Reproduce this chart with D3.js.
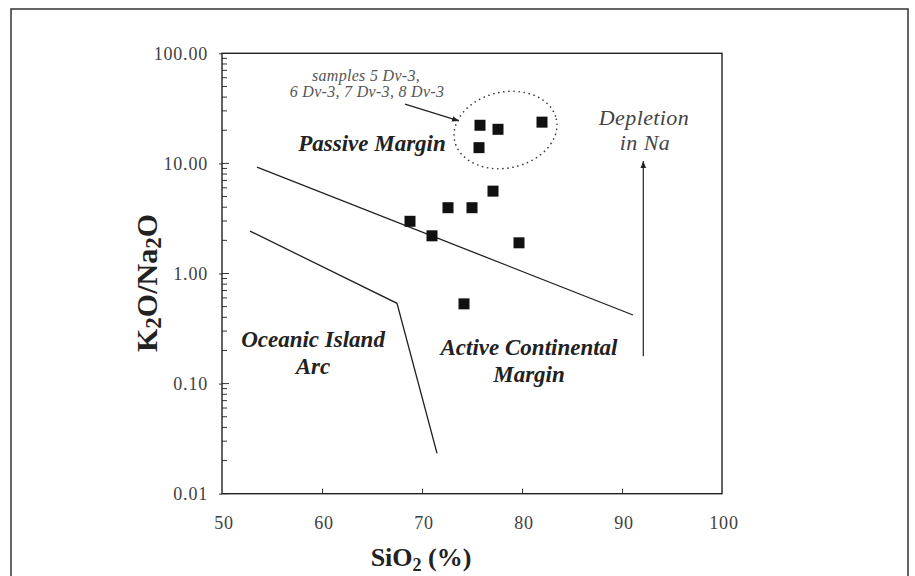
<!DOCTYPE html>
<html>
<head>
<meta charset="utf-8">
<script src="https://cdn.jsdelivr.net/npm/d3@7"></script>
<style>
  html, body { margin: 0; padding: 0; background: #fff; }
  svg { display: block; font-family: "Liberation Serif", "Times New Roman", serif; }
</style>
</head>
<body>
<svg id="chart" width="915" height="576"></svg>
<script>
// values
var xTicks = [50, 60, 70, 80, 90, 100];
var yTicks = [0.01, 0.1, 1, 10, 100];
var sio2     = [68.8, 71.0, 72.6, 75.0, 77.1, 75.8, 77.6, 75.7, 82.0, 79.7, 74.2];
var k2oNa2o  = [2.98, 2.2, 3.96, 3.96, 5.6, 22.2, 20.4, 13.9, 23.7, 1.9, 0.53];
var upperBoundary = [[53.5, 9.25], [91.1, 0.42]];
var lowerBoundary = [[52.8, 2.43], [67.5, 0.536], [71.5, 0.0233]];
var depletionArrow = [[92.13, 0.177], [92.13, 10.5]];
var sampleArrow = [[68.3, 34.5], [73.7, 24.3]];
var sampleGroup = {x: 78.35, y: 20.1};
var regionLabels = [
  {lines: ['Passive Margin'], x: 65.0, y: 13.0},
  {lines: ['Oceanic Island', 'Arc'], x: 59.1, y: 0.215},
  {lines: ['Active Continental', 'Margin'], x: 80.7, y: 0.18}
];

var svg = d3.select('#chart');
var plotLeft = 222, plotRight = 722, plotTop = 53.3, plotBottom = 493.7;

var x = d3.scaleLinear().domain([50, 100]).range([plotLeft, plotRight]);
var y = d3.scaleLog().domain([0.01, 100]).range([plotBottom, plotTop]);

// outer frame of the figure
svg.append('rect')
  .attr('x', 11).attr('y', 9)
  .attr('width', 897).attr('height', 620)
  .attr('fill', 'none').attr('stroke', '#333').attr('stroke-width', 1.5);

var defs = svg.append('defs');
defs.append('marker')
  .attr('id', 'head')
  .attr('viewBox', '0 0 10 10')
  .attr('refX', 10).attr('refY', 5)
  .attr('markerWidth', 7).attr('markerHeight', 7)
  .attr('markerUnits', 'userSpaceOnUse')
  .attr('orient', 'auto')
  .append('path').attr('d', 'M0,1 L10,5 L0,9 Z').attr('fill', '#222');

// axes
var xAxis = d3.axisBottom(x)
  .tickValues(xTicks)
  .tickSizeInner(-5).tickSizeOuter(0)
  .tickPadding(23);
var gx = svg.append('g').attr('transform', 'translate(0,' + plotBottom + ')').call(xAxis);

var yAxis = d3.axisLeft(y)
  .tickValues(yTicks)
  .tickFormat(d3.format('.2f'))
  .tickSizeInner(3).tickSizeOuter(0)
  .tickPadding(11);
var gy = svg.append('g').attr('transform', 'translate(' + plotLeft + ',0)').call(yAxis);

[gx, gy].forEach(function(g) {
  g.select('.domain').remove();
  g.selectAll('.tick line').attr('stroke', '#333');
  g.selectAll('.tick text')
    .attr('font-size', 18)
    .attr('letter-spacing', 0.8)
    .attr('fill', '#404040')
    .attr('font-family', '"Liberation Serif", serif');
});
gx.selectAll('.tick text').attr('dx', 1.5);
gx.selectAll('.tick').filter(function(d) { return d === 50 || d === 100; }).select('line').remove();

// minor log ticks, inside the box
var minor = [];
yTicks.slice(0, -1).forEach(function(d) {
  for (var k = 1; k <= 9; k++) minor.push(d * k);
});
svg.append('g').selectAll('line').data(minor).join('line')
  .attr('x1', plotLeft).attr('x2', function(d) { return plotLeft + (yTicks.indexOf(d) >= 0 ? 7 : 5); })
  .attr('y1', function(d) { return y(d); }).attr('y2', function(d) { return y(d); })
  .attr('stroke', '#333').attr('stroke-width', 1);

// plot box
svg.append('rect')
  .attr('x', plotLeft).attr('y', plotTop)
  .attr('width', plotRight - plotLeft).attr('height', plotBottom - plotTop)
  .attr('fill', 'none').attr('stroke', '#222').attr('stroke-width', 1.4);

// boundaries
var line = d3.line().x(function(d) { return x(d[0]); }).y(function(d) { return y(d[1]); });
[upperBoundary, lowerBoundary].forEach(function(pts) {
  svg.append('path').attr('d', line(pts))
    .attr('fill', 'none').attr('stroke', '#222').attr('stroke-width', 1.3);
});

// arrows
svg.append('path').attr('d', line(depletionArrow))
  .attr('fill', 'none').attr('stroke', '#222').attr('stroke-width', 1.2)
  .attr('marker-end', 'url(#head)');
svg.append('path').attr('d', line(sampleArrow))
  .attr('fill', 'none').attr('stroke', '#222').attr('stroke-width', 1.3)
  .attr('marker-end', 'url(#head)');

// dotted ellipse round the sample group
svg.append('ellipse')
  .attr('transform', 'translate(' + x(sampleGroup.x) + ',' + y(sampleGroup.y) + ') rotate(-12)')
  .attr('rx', 52).attr('ry', 38)
  .attr('fill', 'none').attr('stroke', '#333').attr('stroke-width', 1.6)
  .attr('stroke-linecap', 'round').attr('stroke-dasharray', '0.1 5');

// samples
svg.append('g').selectAll('rect').data(sio2).join('rect')
  .attr('x', function(d) { return x(d) - 5.5; })
  .attr('y', function(d, i) { return y(k2oNa2o[i]) - 5.5; })
  .attr('width', 11).attr('height', 11)
  .attr('fill', '#111');

// region names
regionLabels.forEach(function(r) {
  var t = svg.append('text')
    .attr('x', x(r.x)).attr('y', y(r.y))
    .attr('text-anchor', 'middle')
    .attr('font-size', 23).attr('font-weight', 'bold').attr('font-style', 'italic')
    .attr('fill', '#222');
  r.lines.forEach(function(s, i) {
    t.append('tspan').attr('x', x(r.x)).attr('dy', i ? 27 : 0).text(s);
  });
});

// notes
var note = svg.append('text')
  .attr('x', 366).attr('y', 81)
  .attr('text-anchor', 'middle')
  .attr('font-size', 16).attr('font-style', 'italic').attr('fill', '#555')
  .attr('letter-spacing', 0.3);
note.append('tspan').attr('x', 366).text('samples 5 Dv-3,');
note.append('tspan').attr('x', 367).attr('dy', 16).text('6 Dv-3, 7 Dv-3, 8 Dv-3');

var dep = svg.append('text')
  .attr('x', 644).attr('y', 125)
  .attr('text-anchor', 'middle')
  .attr('font-size', 22).attr('font-style', 'italic').attr('fill', '#444')
  .attr('letter-spacing', 0.4);
dep.append('tspan').attr('x', 644).text('Depletion');
dep.append('tspan').attr('x', 645).attr('dy', 25).text('in Na');

// axis titles
var xt = svg.append('text')
  .attr('x', 421).attr('y', 566)
  .attr('text-anchor', 'middle')
  .attr('font-size', 26).attr('font-weight', 'bold').attr('fill', '#222');
xt.append('tspan').text('SiO');
xt.append('tspan').attr('font-size', 18).attr('dy', 5).text('2');
xt.append('tspan').attr('dy', -5).text(' (%)');

var yt = svg.append('text')
  .attr('transform', 'translate(157,283) rotate(-90)')
  .attr('text-anchor', 'middle')
  .attr('font-size', 30).attr('font-weight', 'bold').attr('fill', '#222');
yt.append('tspan').text('K');
yt.append('tspan').attr('font-size', 23).attr('dy', 4).text('2');
yt.append('tspan').attr('dy', -4).text('O/Na');
yt.append('tspan').attr('font-size', 23).attr('dy', 4).text('2');
yt.append('tspan').attr('dy', -4).text('O');
</script>
</body>
</html>
